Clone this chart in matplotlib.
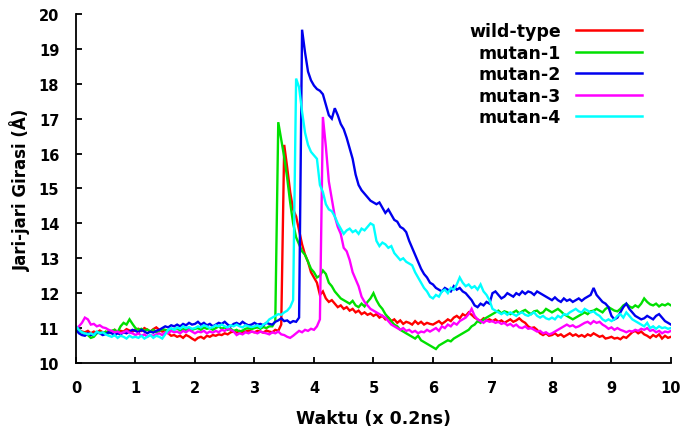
import numpy as np
import matplotlib
matplotlib.use("Agg")
import matplotlib.pyplot as plt

# time axis (x 0.2 ns), sampled every 0.05
time = np.linspace(0, 10, 201)

wild_type = [
    11.00, 10.95, 10.90, 10.88, 10.92, 10.85, 10.90, 10.87, 10.93, 10.88, 10.85, 10.92, 10.90, 10.95, 10.88, 10.92, 10.90, 10.97, 10.93, 10.90,
    10.95, 10.98, 10.92, 11.00, 10.95, 10.90, 10.97, 11.02, 10.95, 10.90, 10.93, 10.85, 10.78, 10.80, 10.75, 10.78, 10.72, 10.80, 10.76, 10.70,
    10.65, 10.72, 10.75, 10.70, 10.78, 10.75, 10.80, 10.78, 10.82, 10.80, 10.85, 10.82, 10.88, 10.90, 10.87, 10.92, 10.88, 10.90, 10.93, 10.90,
    10.88, 10.92, 10.90, 10.87, 10.93, 10.90, 10.88, 10.95, 10.92, 11.10, 16.25, 15.60, 14.90, 14.40, 14.20, 13.80, 13.40, 13.10, 12.90, 12.60,
    12.45, 12.30, 11.95, 12.05, 11.85, 11.75, 11.80, 11.70, 11.60, 11.65, 11.55, 11.60, 11.50, 11.55, 11.45, 11.50, 11.40, 11.45, 11.38, 11.42,
    11.35, 11.40, 11.30, 11.35, 11.25, 11.30, 11.20, 11.25, 11.15, 11.22, 11.12, 11.18, 11.15, 11.10, 11.20, 11.12, 11.18, 11.10, 11.15, 11.12,
    11.10, 11.15, 11.20, 11.12, 11.18, 11.25, 11.20, 11.30, 11.35, 11.28, 11.40, 11.35, 11.45, 11.38, 11.30, 11.25, 11.20, 11.28, 11.22, 11.25,
    11.20, 11.25, 11.18, 11.22, 11.15, 11.20, 11.25, 11.18, 11.22, 11.28, 11.20, 11.15, 11.05, 11.00, 11.02, 10.95, 10.85, 10.80, 10.85, 10.78,
    10.80, 10.85, 10.78, 10.82, 10.75, 10.80, 10.85, 10.78, 10.82, 10.76, 10.80, 10.75, 10.82, 10.78, 10.85, 10.80, 10.75, 10.78, 10.70, 10.72,
    10.75, 10.70, 10.72, 10.68, 10.75, 10.72, 10.80, 10.88, 10.92, 10.85, 10.90, 10.82, 10.78, 10.72, 10.80, 10.75, 10.82, 10.70, 10.78, 10.72,
    10.75,
]

mutan_1 = [
    11.00, 10.92, 10.88, 10.85, 10.80, 10.72, 10.75, 10.85, 10.88, 10.82, 10.90, 10.85, 10.92, 10.95, 10.88, 11.05, 11.15, 11.10, 11.25, 11.12,
    11.00, 10.95, 10.98, 10.92, 10.96, 10.90, 10.95, 10.88, 10.92, 10.97, 10.95, 10.92, 10.98, 10.95, 11.00, 10.93, 10.97, 10.95, 11.00, 10.95,
    10.98, 11.00, 10.95, 11.02, 10.98, 11.00, 10.95, 11.00, 11.05, 10.98, 11.02, 10.95, 10.98, 10.92, 10.95, 10.90, 10.93, 10.98, 11.00, 10.97,
    11.00, 11.02, 10.98, 11.03, 11.00, 11.05, 11.05, 11.20, 16.90, 16.40, 15.90, 15.30, 14.60, 14.00, 13.60, 13.40, 13.20, 13.10, 12.90, 12.70,
    12.60, 12.45, 12.50, 12.65, 12.55, 12.30, 12.20, 12.05, 11.95, 11.85, 11.80, 11.75, 11.70, 11.78, 11.65, 11.60, 11.70, 11.62, 11.75, 11.85,
    12.00, 11.80, 11.65, 11.55, 11.40, 11.30, 11.20, 11.10, 11.05, 10.95, 10.90, 10.85, 10.80, 10.75, 10.70, 10.78, 10.65, 10.60, 10.55, 10.50,
    10.45, 10.40, 10.50, 10.55, 10.60, 10.65, 10.62, 10.70, 10.75, 10.80, 10.85, 10.90, 10.95, 11.05, 11.10, 11.20, 11.15, 11.25, 11.30, 11.35,
    11.40, 11.45, 11.50, 11.42, 11.48, 11.45, 11.40, 11.45, 11.50, 11.42, 11.48, 11.52, 11.45, 11.40, 11.48, 11.50, 11.42, 11.45, 11.55, 11.50,
    11.45, 11.50, 11.55, 11.48, 11.40, 11.35, 11.30, 11.25, 11.30, 11.35, 11.40, 11.45, 11.40, 11.48, 11.50, 11.55, 11.50, 11.45, 11.55, 11.60,
    11.55, 11.50, 11.48, 11.55, 11.65, 11.70, 11.62, 11.58, 11.65, 11.60, 11.70, 11.85, 11.75, 11.68, 11.65, 11.70, 11.62, 11.68, 11.65, 11.70,
    11.65,
]

mutan_2 = [
    10.95, 10.85, 10.80, 10.78, 10.85, 10.80, 10.82, 10.88, 10.85, 10.80, 10.83, 10.88, 10.85, 10.80, 10.85, 10.82, 10.88, 10.85, 10.90, 10.95,
    10.92, 10.88, 10.95, 10.90, 10.85, 10.90, 10.87, 10.92, 10.95, 11.00, 11.05, 11.02, 11.08, 11.05, 11.10, 11.05, 11.12, 11.08, 11.15, 11.10,
    11.12, 11.18, 11.10, 11.15, 11.08, 11.12, 11.05, 11.10, 11.15, 11.12, 11.18, 11.10, 11.05, 11.12, 11.15, 11.10, 11.18, 11.12, 11.08, 11.10,
    11.15, 11.10, 11.12, 11.08, 11.15, 11.12, 11.10, 11.18, 11.22, 11.28, 11.20, 11.22, 11.15, 11.20, 11.18, 11.30, 19.55, 18.90, 18.35, 18.10,
    17.95, 17.85, 17.80, 17.70, 17.40, 17.10, 17.00, 17.30, 17.10, 16.85, 16.70, 16.45, 16.15, 15.85, 15.40, 15.10, 14.95, 14.85, 14.75, 14.65,
    14.60, 14.55, 14.60, 14.45, 14.30, 14.40, 14.25, 14.10, 14.05, 13.90, 13.85, 13.75, 13.50, 13.30, 13.10, 12.90, 12.70, 12.55, 12.45, 12.30,
    12.25, 12.15, 12.10, 12.05, 12.15, 12.10, 12.05, 12.20, 12.10, 12.15, 12.05, 12.00, 11.90, 11.80, 11.65, 11.60, 11.70, 11.65, 11.75, 11.70,
    12.00, 12.05, 11.95, 11.85, 11.90, 12.00, 11.95, 11.90, 12.00, 11.95, 12.05, 11.98, 12.05, 12.02, 11.95, 12.05, 12.00, 11.95, 11.90, 11.85,
    11.80, 11.88, 11.80, 11.75, 11.85, 11.78, 11.82, 11.75, 11.80, 11.85, 11.78, 11.85, 11.90, 11.95, 12.15, 11.95, 11.85, 11.75, 11.70, 11.60,
    11.35, 11.25, 11.30, 11.45, 11.60, 11.70, 11.55, 11.45, 11.35, 11.30, 11.25, 11.28, 11.35, 11.30, 11.25, 11.35, 11.40, 11.30, 11.20, 11.15,
    11.10,
]

mutan_3 = [
    11.00, 11.05, 11.15, 11.30, 11.25, 11.10, 11.12, 11.05, 11.08, 11.02, 11.00, 10.95, 10.92, 10.88, 10.90, 10.85, 10.88, 10.92, 10.87, 10.85,
    10.80, 10.85, 10.78, 10.82, 10.75, 10.80, 10.78, 10.82, 10.85, 10.80, 10.88, 10.85, 10.92, 10.88, 10.90, 10.85, 10.92, 10.88, 10.95, 10.90,
    10.85, 10.90, 10.88, 10.92, 10.85, 10.90, 10.87, 10.92, 10.88, 10.95, 10.92, 10.98, 10.95, 10.90, 10.80, 10.85, 10.82, 10.88, 10.85, 10.90,
    10.88, 10.85, 10.90, 10.87, 10.85, 10.82, 10.88, 10.85, 10.90, 10.82, 10.80, 10.75, 10.72, 10.78, 10.85, 10.92, 10.88, 10.95, 10.92, 10.98,
    10.95, 11.05, 11.25, 17.05, 16.20, 15.20, 14.70, 14.20, 13.90, 13.70, 13.30, 13.20, 12.95, 12.60, 12.40, 12.20, 11.90, 11.75, 11.65, 11.55,
    11.50, 11.45, 11.40, 11.35, 11.30, 11.20, 11.10, 11.05, 11.00, 10.95, 11.00, 10.92, 10.95, 10.88, 10.92, 10.85, 10.90, 10.88, 10.95, 10.90,
    10.95, 11.00, 10.92, 11.05, 11.00, 11.10, 11.05, 11.15, 11.10, 11.20, 11.25, 11.30, 11.40, 11.55, 11.35, 11.25, 11.20, 11.15, 11.22, 11.18,
    11.20, 11.15, 11.18, 11.12, 11.15, 11.08, 11.12, 11.05, 11.10, 11.02, 11.00, 11.05, 10.98, 11.00, 10.95, 10.90, 10.92, 10.85, 10.88, 10.82,
    10.85, 10.90, 10.95, 11.00, 11.05, 11.10, 11.05, 11.08, 11.02, 11.05, 11.10, 11.15, 11.18, 11.12, 11.20, 11.15, 11.18, 11.10, 11.05, 10.98,
    11.02, 10.95, 11.00, 10.95, 10.92, 10.88, 10.92, 10.90, 10.95, 10.92, 10.98, 10.95, 11.00, 10.92, 10.95, 10.88, 10.92, 10.85, 10.90, 10.88,
    10.92,
]

mutan_4 = [
    11.05, 10.95, 10.88, 10.85, 10.82, 10.85, 10.80, 10.90, 10.85, 10.88, 10.82, 10.78, 10.75, 10.80, 10.72, 10.78, 10.75, 10.70, 10.78, 10.73,
    10.75, 10.72, 10.78, 10.70, 10.75, 10.80, 10.72, 10.78, 10.75, 10.70, 10.82, 10.95, 11.00, 10.95, 11.02, 10.98, 11.05, 11.00, 11.03, 10.98,
    11.00, 11.05, 11.02, 11.08, 11.05, 11.00, 11.03, 11.08, 11.05, 11.10, 11.05, 11.02, 11.08, 11.05, 11.10, 11.05, 11.02, 11.08, 11.05, 11.03,
    11.05, 11.08, 11.02, 11.10, 11.15, 11.25, 11.30, 11.35, 11.40, 11.38, 11.45, 11.50, 11.60, 11.80, 18.15, 17.90, 17.20, 16.60, 16.25, 16.05,
    15.95, 15.85, 15.10, 14.90, 14.55, 14.40, 14.35, 14.20, 14.00, 13.85, 13.70, 13.80, 13.85, 13.75, 13.80, 13.70, 13.85, 13.80, 13.90, 14.00,
    13.95, 13.50, 13.35, 13.45, 13.40, 13.30, 13.35, 13.15, 13.05, 12.95, 13.00, 12.90, 12.85, 12.80, 12.60, 12.45, 12.30, 12.15, 12.05, 11.90,
    11.85, 11.95, 11.90, 12.05, 12.10, 12.00, 12.15, 12.10, 12.25, 12.45, 12.30, 12.20, 12.25, 12.15, 12.20, 12.10, 12.25, 12.05, 11.95, 11.80,
    11.55, 11.50, 11.45, 11.40, 11.45, 11.38, 11.45, 11.40, 11.35, 11.42, 11.45, 11.38, 11.35, 11.40, 11.45, 11.35, 11.30, 11.35, 11.28, 11.25,
    11.30, 11.25, 11.35, 11.30, 11.40, 11.38, 11.45, 11.50, 11.55, 11.48, 11.45, 11.55, 11.50, 11.45, 11.48, 11.40, 11.35, 11.25, 11.20, 11.25,
    11.20, 11.25, 11.35, 11.40, 11.30, 11.45, 11.35, 11.25, 11.20, 11.15, 11.10, 11.05, 11.15, 11.00, 11.05, 10.98, 11.05, 11.00, 11.02, 10.98,
    11.00,
]

series_labels = ["wild-type", "mutan-1", "mutan-2", "mutan-3", "mutan-4"]
series_values = [wild_type, mutan_1, mutan_2, mutan_3, mutan_4]
series_colors = ["#ff0000", "#00e000", "#0000ee", "#ff00ff", "#00ffff"]

x_ticks = [0, 1, 2, 3, 4, 5, 6, 7, 8, 9, 10]
y_ticks = [10, 11, 12, 13, 14, 15, 16, 17, 18, 19, 20]

plt.rcParams['font.family'] = ['DejaVu Sans']
plt.rcParams['font.weight'] = 'bold'

fig = plt.figure(figsize=(6.85, 4.31), dpi=100)
ax = fig.add_axes([0.1109, 0.1555, 0.8686, 0.8097])

for lab, vals, col in zip(series_labels, series_values, series_colors):
    ax.plot(time, vals, color=col, lw=1.7, label=lab, solid_joinstyle='miter')

ax.set_xlim(0, 10)
ax.set_ylim(10, 20)
ax.set_xticks(x_ticks)
ax.set_yticks(y_ticks)
ax.tick_params(direction='in', length=4, width=1.3, pad=12, labelsize=10.5)
for s in ['top', 'right']:
    ax.spines[s].set_visible(False)
for s in ['left', 'bottom']:
    ax.spines[s].set_linewidth(1.3)

ax.set_xlabel("Waktu (x 0.2ns)", fontsize=12.5, fontweight='bold', labelpad=10)
ax.set_ylabel("Jari-jari Girasi (Å)", fontsize=12, fontweight='bold', labelpad=6)

leg = ax.legend(loc='upper right', bbox_to_anchor=(0.937, 0.946), bbox_transform=fig.transFigure,
                frameon=False, markerfirst=False, fontsize=12.5, handlelength=3.8,
                handletextpad=0.85, labelspacing=0.2, borderpad=0, borderaxespad=0)
for line in leg.get_lines():
    line.set_linewidth(1.8)

fig.savefig("out.png", dpi=100)
